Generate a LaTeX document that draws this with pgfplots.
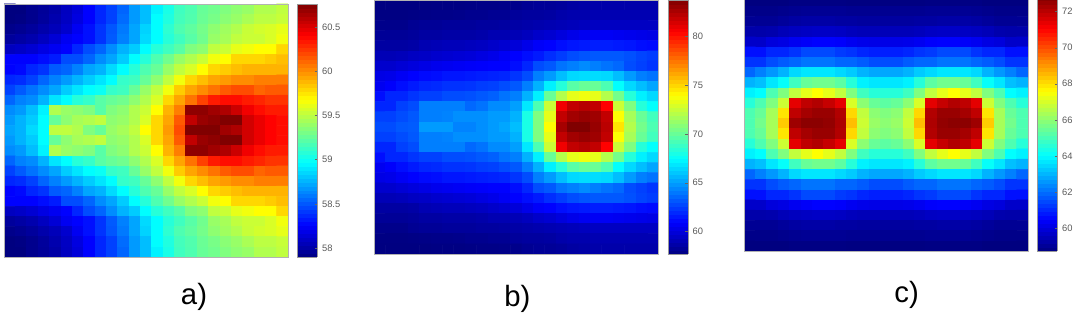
\documentclass[border=0pt]{standalone}
\usepackage{pgfplots}
\usepackage{fontspec}
\setmainfont{Liberation Sans}
\pgfplotsset{compat=1.18}
\pgfplotsset{
  panel/.style={
    scale only axis, axis on top, y dir=reverse,
    xmin=-0.5, xmax=24.5, ymin=-0.5, ymax=24.5,
    xtick=\empty, ytick=\empty,
    axis line style={black!30, line width=0.6pt},
    colormap/jet, colorbar sampled,
    colorbar style={
      samples=65, width=15pt, xshift=-1.5pt,
      at={(parent axis.north east)}, anchor=north west,
      tick align=inside, major tick length=2pt, ytick pos=right,
      tick style={black!60, line width=0.3pt},
      axis line style={black!40, line width=0.5pt},
      yticklabel pos=right,
      yticklabel style={font=\fontsize{7}{8}\selectfont, text=black!65,
        /pgf/number format/assume math mode=true,
        /pgf/number format/fixed, /pgf/number format/precision=1},
    },
  },
  heatgrid/.style={matrix plot*, mesh/cols=25, point meta=explicit, shader=flat corner, draw=none},
}
\begin{document}
\begin{tikzpicture}
\path[use as bounding box] (0,0) rectangle (807pt,237pt);
% a)
\begin{axis}[panel, at={(3pt,44.25pt)}, anchor=south west, width=213pt, height=189.75pt,
  point meta min=57.9, point meta max=60.76,
  colorbar style={ytick={58,58.5,59,59.5,60,60.5}}]
\addplot[heatgrid] table[row sep=\\, header=false, x expr={\coordindex-25*floor((\coordindex+0.5)/25)}, y expr={floor((\coordindex+0.5)/25)}, meta index=0] {
57.90\\57.90\\57.94\\57.97\\58.01\\58.08\\58.15\\58.26\\58.36\\58.44\\58.54\\58.69\\58.79\\58.94\\59.04\\59.15\\59.19\\59.26\\59.29\\59.33\\59.37\\59.40\\59.47\\59.47\\59.51\\
57.90\\57.91\\57.94\\57.98\\58.03\\58.09\\58.17\\58.26\\58.36\\58.44\\58.56\\58.69\\58.79\\58.97\\59.06\\59.16\\59.20\\59.27\\59.31\\59.36\\59.40\\59.45\\59.50\\59.50\\59.53\\
57.93\\57.95\\57.98\\58.02\\58.06\\58.12\\58.22\\58.30\\58.40\\58.50\\58.60\\58.72\\58.85\\58.97\\59.10\\59.19\\59.24\\59.30\\59.37\\59.42\\59.47\\59.53\\59.56\\59.58\\59.62\\
57.98\\58.00\\58.03\\58.08\\58.14\\58.22\\58.26\\58.30\\58.40\\58.51\\58.62\\58.72\\58.87\\58.97\\59.08\\59.15\\59.22\\59.29\\59.40\\59.44\\59.51\\59.54\\59.54\\59.58\\59.65\\
58.08\\58.10\\58.13\\58.18\\58.22\\58.26\\58.36\\58.47\\58.54\\58.65\\58.76\\58.83\\58.97\\59.08\\59.15\\59.22\\59.33\\59.37\\59.51\\59.54\\59.62\\59.65\\59.69\\59.69\\59.80\\
58.26\\58.26\\58.26\\58.29\\58.33\\58.47\\58.47\\58.54\\58.65\\58.72\\58.83\\58.97\\59.08\\59.19\\59.29\\59.40\\59.47\\59.54\\59.65\\59.69\\59.80\\59.80\\59.80\\59.83\\59.87\\
58.26\\58.28\\58.36\\58.40\\58.51\\58.54\\58.62\\58.72\\58.76\\58.87\\58.97\\59.08\\59.19\\59.26\\59.40\\59.51\\59.58\\59.69\\59.80\\59.83\\59.87\\59.90\\59.90\\59.90\\59.90\\
58.36\\58.38\\58.44\\58.54\\58.62\\58.69\\58.76\\58.83\\58.90\\58.97\\59.12\\59.15\\59.26\\59.37\\59.51\\59.65\\59.80\\59.87\\59.94\\59.97\\60.01\\60.01\\60.05\\60.05\\60.05\\
58.44\\58.51\\58.58\\58.65\\58.72\\58.83\\58.90\\58.97\\59.00\\59.12\\59.15\\59.26\\59.40\\59.51\\59.65\\59.83\\59.94\\60.01\\60.08\\60.15\\60.19\\60.19\\60.12\\60.15\\60.15\\
58.54\\58.62\\58.65\\58.76\\58.90\\58.97\\59.08\\59.12\\59.22\\59.26\\59.29\\59.37\\59.47\\59.58\\59.80\\59.94\\60.08\\60.22\\60.33\\60.37\\60.37\\60.33\\60.30\\60.26\\60.26\\
58.65\\58.69\\58.79\\58.94\\59.47\\59.40\\59.37\\59.33\\59.22\\59.33\\59.37\\59.47\\59.54\\59.69\\59.90\\60.05\\60.72\\60.72\\60.67\\60.63\\60.55\\60.44\\60.37\\60.33\\60.33\\
58.69\\58.76\\58.83\\58.97\\59.26\\59.37\\59.44\\59.47\\59.51\\59.37\\59.40\\59.47\\59.58\\59.80\\59.94\\60.15\\60.58\\60.69\\60.72\\60.76\\60.76\\60.53\\60.46\\60.40\\60.37\\
58.72\\58.76\\58.87\\58.97\\59.51\\59.51\\59.47\\59.33\\59.26\\59.40\\59.44\\59.51\\59.69\\59.80\\59.97\\60.19\\60.76\\60.76\\60.76\\60.67\\60.63\\60.53\\60.46\\60.40\\60.37\\
58.69\\58.76\\58.83\\58.97\\59.26\\59.37\\59.44\\59.47\\59.51\\59.37\\59.40\\59.47\\59.58\\59.80\\59.94\\60.15\\60.58\\60.69\\60.72\\60.76\\60.76\\60.53\\60.46\\60.40\\60.37\\
58.65\\58.69\\58.79\\58.94\\59.47\\59.40\\59.37\\59.33\\59.22\\59.33\\59.37\\59.47\\59.54\\59.69\\59.90\\60.05\\60.72\\60.72\\60.67\\60.63\\60.55\\60.44\\60.37\\60.33\\60.33\\
58.54\\58.62\\58.65\\58.76\\58.90\\58.97\\59.08\\59.12\\59.22\\59.26\\59.29\\59.37\\59.47\\59.58\\59.80\\59.94\\60.08\\60.22\\60.33\\60.37\\60.37\\60.33\\60.30\\60.26\\60.26\\
58.44\\58.51\\58.58\\58.65\\58.72\\58.83\\58.90\\58.97\\59.00\\59.12\\59.15\\59.26\\59.40\\59.51\\59.65\\59.83\\59.94\\60.01\\60.08\\60.15\\60.19\\60.19\\60.12\\60.15\\60.15\\
58.36\\58.38\\58.44\\58.54\\58.62\\58.69\\58.76\\58.83\\58.90\\58.97\\59.12\\59.15\\59.26\\59.37\\59.51\\59.65\\59.80\\59.87\\59.94\\59.97\\60.01\\60.01\\60.05\\60.05\\60.05\\
58.26\\58.28\\58.36\\58.40\\58.51\\58.54\\58.62\\58.72\\58.76\\58.87\\58.97\\59.08\\59.19\\59.26\\59.40\\59.51\\59.58\\59.69\\59.80\\59.83\\59.87\\59.90\\59.90\\59.90\\59.90\\
58.26\\58.26\\58.26\\58.29\\58.33\\58.47\\58.47\\58.54\\58.65\\58.72\\58.83\\58.97\\59.08\\59.19\\59.29\\59.40\\59.47\\59.54\\59.65\\59.69\\59.80\\59.80\\59.80\\59.83\\59.87\\
58.08\\58.10\\58.13\\58.18\\58.22\\58.26\\58.36\\58.47\\58.54\\58.65\\58.76\\58.83\\58.97\\59.08\\59.15\\59.22\\59.33\\59.37\\59.51\\59.54\\59.62\\59.65\\59.69\\59.69\\59.80\\
57.98\\58.00\\58.03\\58.08\\58.14\\58.22\\58.26\\58.30\\58.40\\58.51\\58.62\\58.72\\58.87\\58.97\\59.08\\59.15\\59.22\\59.29\\59.40\\59.44\\59.51\\59.54\\59.54\\59.58\\59.65\\
57.93\\57.95\\57.98\\58.02\\58.06\\58.12\\58.22\\58.30\\58.40\\58.50\\58.60\\58.72\\58.85\\58.97\\59.10\\59.19\\59.24\\59.30\\59.37\\59.42\\59.47\\59.53\\59.56\\59.58\\59.62\\
57.90\\57.91\\57.94\\57.98\\58.03\\58.09\\58.17\\58.26\\58.36\\58.44\\58.56\\58.69\\58.79\\58.97\\59.06\\59.16\\59.20\\59.27\\59.31\\59.36\\59.40\\59.45\\59.50\\59.50\\59.53\\
57.90\\57.90\\57.94\\57.97\\58.01\\58.08\\58.15\\58.26\\58.36\\58.44\\58.54\\58.69\\58.79\\58.94\\59.04\\59.15\\59.19\\59.26\\59.29\\59.33\\59.37\\59.40\\59.47\\59.47\\59.51\\
};
\end{axis}
% b)
\begin{axis}[panel, at={(280.5pt,46.5pt)}, anchor=south west, width=213.4pt, height=190.5pt,
  point meta min=57.72, point meta max=83.68,
  colorbar style={ytick={60,65,70,75,80}}]
\addplot[heatgrid] table[row sep=\\, header=false, x expr={\coordindex-25*floor((\coordindex+0.5)/25)}, y expr={floor((\coordindex+0.5)/25)}, meta index=0] {
57.75\\57.75\\57.75\\57.75\\57.75\\57.8\\57.8\\57.8\\57.85\\57.9\\57.9\\57.95\\58.0\\58.2\\58.3\\58.3\\58.4\\58.6\\58.7\\58.8\\58.8\\58.8\\58.8\\58.8\\58.8\\
57.8\\57.8\\57.8\\57.85\\57.9\\57.95\\57.95\\58.0\\58.1\\58.1\\58.2\\58.2\\58.4\\58.5\\58.5\\58.6\\58.8\\58.9\\58.9\\59.0\\59.0\\59.0\\59.0\\59.0\\59.0\\
58.0\\58.0\\58.0\\58.2\\58.3\\58.3\\58.4\\58.4\\58.4\\58.5\\58.5\\58.6\\58.7\\58.8\\58.9\\59.0\\59.1\\59.2\\59.3\\59.4\\59.4\\59.4\\59.4\\59.4\\59.4\\
58.3\\58.3\\58.3\\58.4\\58.6\\58.6\\58.7\\58.7\\58.7\\58.8\\59.0\\59.0\\59.1\\59.3\\59.6\\59.8\\60.1\\60.4\\60.6\\60.7\\60.7\\60.6\\60.5\\60.4\\60.3\\
58.6\\58.6\\58.6\\58.7\\59.0\\59.1\\59.2\\59.2\\59.3\\59.4\\59.6\\59.8\\60.0\\60.4\\60.8\\61.0\\61.3\\61.5\\61.6\\61.7\\61.7\\61.6\\61.5\\61.3\\61.2\\
59.1\\59.1\\59.2\\59.4\\59.5\\59.7\\59.8\\59.9\\60.0\\60.2\\60.4\\60.7\\61.0\\61.3\\61.6\\62.1\\62.5\\62.9\\63.1\\63.2\\63.2\\63.2\\63.0\\62.7\\62.5\\
59.7\\59.7\\59.9\\60.1\\60.3\\60.5\\60.6\\60.7\\60.8\\60.9\\61.0\\61.0\\61.3\\61.9\\62.9\\63.2\\63.9\\64.2\\64.5\\64.2\\63.9\\63.6\\62.9\\62.6\\62.3\\
60.3\\60.4\\60.7\\61.0\\61.2\\61.3\\61.5\\61.5\\61.6\\61.7\\61.8\\61.9\\62.3\\62.9\\64.2\\64.9\\65.8\\66.5\\66.6\\66.6\\66.5\\65.8\\64.9\\64.2\\63.9\\
60.6\\60.9\\61.3\\61.6\\61.9\\62.0\\62.2\\62.2\\62.3\\62.5\\62.6\\62.9\\63.2\\64.2\\65.5\\67.1\\68.4\\69.7\\70.1\\70.1\\69.4\\67.5\\66.5\\65.8\\65.2\\
61.3\\61.9\\61.9\\62.3\\62.6\\62.6\\62.9\\62.9\\63.0\\63.2\\63.4\\63.9\\64.2\\65.5\\67.1\\70.1\\72.0\\73.3\\73.6\\73.3\\72.0\\70.4\\68.4\\67.1\\66.5\\
61.9\\61.9\\62.6\\62.9\\64.2\\64.2\\64.2\\64.2\\63.6\\63.9\\64.5\\64.5\\65.0\\66.9\\69.4\\72.6\\80.8\\82.0\\82.3\\82.0\\80.4\\72.6\\70.7\\68.4\\67.5\\
62.6\\62.6\\62.9\\63.2\\64.2\\64.2\\64.3\\64.6\\64.6\\64.6\\64.9\\64.9\\65.5\\68.1\\70.7\\73.3\\82.0\\82.8\\83.1\\82.9\\82.0\\73.9\\71.7\\70.1\\69.1\\
62.9\\62.9\\63.2\\63.3\\64.9\\64.9\\64.9\\64.3\\64.3\\64.6\\64.9\\65.2\\65.8\\68.1\\70.7\\73.9\\82.7\\83.7\\83.7\\83.1\\82.2\\74.6\\72.0\\70.4\\69.4\\
62.6\\62.6\\62.9\\63.2\\64.2\\64.2\\64.3\\64.6\\64.6\\64.6\\64.9\\64.9\\65.5\\68.1\\70.7\\73.3\\82.0\\82.8\\83.1\\82.9\\82.0\\73.9\\71.7\\70.1\\69.1\\
61.9\\61.9\\62.6\\62.9\\64.2\\64.2\\64.2\\64.2\\63.6\\63.9\\64.5\\64.5\\65.0\\66.9\\69.4\\72.6\\80.8\\82.0\\82.3\\82.0\\80.4\\72.6\\70.7\\68.4\\67.5\\
61.3\\61.9\\61.9\\62.3\\62.6\\62.6\\62.9\\62.9\\63.0\\63.2\\63.4\\63.9\\64.2\\65.5\\67.1\\70.1\\72.0\\73.3\\73.6\\73.3\\72.0\\70.4\\68.4\\67.1\\66.5\\
60.6\\60.9\\61.3\\61.6\\61.9\\62.0\\62.2\\62.2\\62.3\\62.5\\62.6\\62.9\\63.2\\64.2\\65.5\\67.1\\68.4\\69.7\\70.1\\70.1\\69.4\\67.5\\66.5\\65.8\\65.2\\
60.3\\60.4\\60.7\\61.0\\61.2\\61.3\\61.5\\61.5\\61.6\\61.7\\61.8\\61.9\\62.3\\62.9\\64.2\\64.9\\65.8\\66.5\\66.6\\66.6\\66.5\\65.8\\64.9\\64.2\\63.9\\
59.7\\59.7\\59.9\\60.1\\60.3\\60.5\\60.6\\60.7\\60.8\\60.9\\61.0\\61.0\\61.3\\61.9\\62.9\\63.2\\63.9\\64.2\\64.5\\64.2\\63.9\\63.6\\62.9\\62.6\\62.3\\
59.1\\59.1\\59.2\\59.4\\59.5\\59.7\\59.8\\59.9\\60.0\\60.2\\60.4\\60.7\\61.0\\61.3\\61.6\\62.1\\62.5\\62.9\\63.1\\63.2\\63.2\\63.2\\63.0\\62.7\\62.5\\
58.6\\58.6\\58.6\\58.7\\59.0\\59.1\\59.2\\59.2\\59.3\\59.4\\59.6\\59.8\\60.0\\60.4\\60.8\\61.0\\61.3\\61.5\\61.6\\61.7\\61.7\\61.6\\61.5\\61.3\\61.2\\
58.3\\58.3\\58.3\\58.4\\58.6\\58.6\\58.7\\58.7\\58.7\\58.8\\59.0\\59.0\\59.1\\59.3\\59.6\\59.8\\60.1\\60.4\\60.6\\60.7\\60.7\\60.6\\60.5\\60.4\\60.3\\
58.0\\58.0\\58.0\\58.2\\58.3\\58.3\\58.4\\58.4\\58.4\\58.5\\58.5\\58.6\\58.7\\58.8\\58.9\\59.0\\59.1\\59.2\\59.3\\59.4\\59.4\\59.4\\59.4\\59.4\\59.4\\
57.8\\57.8\\57.8\\57.85\\57.9\\57.95\\57.95\\58.0\\58.1\\58.1\\58.2\\58.2\\58.4\\58.5\\58.5\\58.6\\58.8\\58.9\\58.9\\59.0\\59.0\\59.0\\59.0\\59.0\\59.0\\
57.75\\57.75\\57.75\\57.75\\57.75\\57.8\\57.8\\57.8\\57.85\\57.9\\57.9\\57.95\\58.0\\58.2\\58.3\\58.3\\58.4\\58.6\\58.7\\58.8\\58.8\\58.8\\58.8\\58.8\\58.8\\
};
\end{axis}
% c)
\begin{axis}[panel, at={(558pt,48.75pt)}, anchor=south west, width=213pt, height=191.25pt,
  point meta min=58.72, point meta max=72.87,
  colorbar style={ytick={60,62,64,66,68,70,72}}]
\addplot[heatgrid] table[row sep=\\, header=false, x expr={\coordindex-25*floor((\coordindex+0.5)/25)}, y expr={floor((\coordindex+0.5)/25)}, meta index=0] {
58.72\\58.72\\58.72\\58.72\\58.78\\58.78\\58.78\\58.78\\58.78\\58.75\\58.75\\58.75\\58.75\\58.75\\58.75\\58.75\\58.78\\58.78\\58.78\\58.78\\58.78\\58.72\\58.72\\58.72\\58.72\\
58.85\\58.85\\58.85\\58.9\\58.95\\59.0\\59.0\\59.0\\59.0\\58.95\\58.95\\58.95\\58.95\\58.95\\58.95\\58.95\\59.0\\59.0\\59.0\\59.0\\58.95\\58.9\\58.85\\58.85\\58.85\\
59.0\\59.0\\59.0\\59.1\\59.2\\59.25\\59.25\\59.25\\59.2\\59.2\\59.15\\59.15\\59.15\\59.15\\59.15\\59.2\\59.2\\59.25\\59.25\\59.25\\59.2\\59.1\\59.0\\59.0\\59.0\\
59.3\\59.3\\59.35\\59.5\\59.6\\59.65\\59.7\\59.7\\59.65\\59.55\\59.5\\59.5\\59.5\\59.5\\59.5\\59.55\\59.65\\59.7\\59.7\\59.65\\59.6\\59.5\\59.35\\59.3\\59.3\\
59.75\\59.75\\60.0\\60.1\\60.3\\60.4\\60.5\\60.5\\60.45\\60.3\\60.2\\60.15\\60.15\\60.15\\60.2\\60.3\\60.45\\60.5\\60.5\\60.4\\60.3\\60.1\\60.0\\59.75\\59.75\\
60.7\\60.7\\61.0\\61.0\\61.2\\61.5\\61.5\\61.5\\61.3\\61.2\\61.0\\60.9\\60.9\\60.9\\61.0\\61.2\\61.3\\61.5\\61.5\\61.5\\61.2\\61.0\\61.0\\60.7\\60.7\\
61.2\\61.2\\61.55\\61.75\\61.9\\62.1\\62.1\\62.1\\61.9\\61.9\\61.75\\61.55\\61.55\\61.55\\61.75\\61.9\\61.9\\62.1\\62.1\\62.1\\61.9\\61.75\\61.55\\61.2\\61.2\\
61.9\\62.26\\62.6\\62.97\\63.5\\63.7\\63.7\\63.7\\63.5\\63.3\\62.97\\62.8\\62.8\\62.8\\62.97\\63.3\\63.5\\63.7\\63.7\\63.7\\63.5\\62.97\\62.6\\62.26\\61.9\\
62.97\\63.15\\63.7\\64.1\\64.9\\65.45\\65.6\\65.6\\65.3\\64.55\\63.85\\63.7\\63.7\\63.7\\63.85\\64.55\\65.3\\65.6\\65.6\\65.45\\64.9\\64.1\\63.7\\63.15\\62.97\\
63.85\\64.03\\65.09\\65.8\\66.7\\67.22\\67.57\\67.22\\66.7\\65.8\\64.9\\64.55\\64.55\\64.55\\64.9\\65.8\\66.7\\67.22\\67.57\\67.22\\66.7\\65.8\\65.09\\64.03\\63.85\\
64.55\\65.09\\65.8\\66.86\\71.46\\71.99\\72.17\\71.9\\71.46\\67.04\\65.97\\65.45\\65.3\\65.45\\65.97\\67.04\\71.46\\71.9\\72.17\\71.99\\71.46\\66.86\\65.8\\65.09\\64.55\\
65.09\\65.45\\66.33\\67.92\\71.99\\72.35\\72.52\\72.52\\72.17\\68.1\\66.7\\65.97\\65.8\\65.97\\66.7\\68.1\\72.17\\72.52\\72.52\\72.35\\71.99\\67.92\\66.33\\65.45\\65.09\\
65.09\\65.62\\66.33\\68.28\\72.45\\72.7\\72.7\\72.6\\72.25\\68.46\\66.86\\66.15\\65.97\\66.15\\66.86\\68.46\\72.25\\72.6\\72.7\\72.7\\72.45\\68.28\\66.33\\65.62\\65.09\\
65.09\\65.45\\66.33\\67.92\\71.99\\72.35\\72.52\\72.52\\72.17\\68.1\\66.7\\65.97\\65.8\\65.97\\66.7\\68.1\\72.17\\72.52\\72.52\\72.35\\71.99\\67.92\\66.33\\65.45\\65.09\\
64.55\\65.09\\65.8\\66.86\\71.46\\71.99\\72.17\\71.9\\71.46\\67.04\\65.97\\65.45\\65.3\\65.45\\65.97\\67.04\\71.46\\71.9\\72.17\\71.99\\71.46\\66.86\\65.8\\65.09\\64.55\\
63.85\\64.03\\65.09\\65.8\\66.7\\67.22\\67.57\\67.22\\66.7\\65.8\\64.9\\64.55\\64.55\\64.55\\64.9\\65.8\\66.7\\67.22\\67.57\\67.22\\66.7\\65.8\\65.09\\64.03\\63.85\\
62.97\\63.15\\63.7\\64.1\\64.9\\65.45\\65.6\\65.6\\65.3\\64.55\\63.85\\63.7\\63.7\\63.7\\63.85\\64.55\\65.3\\65.6\\65.6\\65.45\\64.9\\64.1\\63.7\\63.15\\62.97\\
61.9\\62.26\\62.6\\62.97\\63.5\\63.7\\63.7\\63.7\\63.5\\63.3\\62.97\\62.8\\62.8\\62.8\\62.97\\63.3\\63.5\\63.7\\63.7\\63.7\\63.5\\62.97\\62.6\\62.26\\61.9\\
61.2\\61.2\\61.55\\61.75\\61.9\\62.1\\62.1\\62.1\\61.9\\61.9\\61.75\\61.55\\61.55\\61.55\\61.75\\61.9\\61.9\\62.1\\62.1\\62.1\\61.9\\61.75\\61.55\\61.2\\61.2\\
60.7\\60.7\\61.0\\61.0\\61.2\\61.5\\61.5\\61.5\\61.3\\61.2\\61.0\\60.9\\60.9\\60.9\\61.0\\61.2\\61.3\\61.5\\61.5\\61.5\\61.2\\61.0\\61.0\\60.7\\60.7\\
59.75\\59.75\\60.0\\60.1\\60.3\\60.4\\60.5\\60.5\\60.45\\60.3\\60.2\\60.15\\60.15\\60.15\\60.2\\60.3\\60.45\\60.5\\60.5\\60.4\\60.3\\60.1\\60.0\\59.75\\59.75\\
59.3\\59.3\\59.35\\59.5\\59.6\\59.65\\59.7\\59.7\\59.65\\59.55\\59.5\\59.5\\59.5\\59.5\\59.5\\59.55\\59.65\\59.7\\59.7\\59.65\\59.6\\59.5\\59.35\\59.3\\59.3\\
59.0\\59.0\\59.0\\59.1\\59.2\\59.25\\59.25\\59.25\\59.2\\59.2\\59.15\\59.15\\59.15\\59.15\\59.15\\59.2\\59.2\\59.25\\59.25\\59.25\\59.2\\59.1\\59.0\\59.0\\59.0\\
58.85\\58.85\\58.85\\58.9\\58.95\\59.0\\59.0\\59.0\\59.0\\58.95\\58.95\\58.95\\58.95\\58.95\\58.95\\58.95\\59.0\\59.0\\59.0\\59.0\\58.95\\58.9\\58.85\\58.85\\58.85\\
58.72\\58.72\\58.72\\58.72\\58.78\\58.78\\58.78\\58.78\\58.78\\58.75\\58.75\\58.75\\58.75\\58.75\\58.75\\58.75\\58.78\\58.78\\58.78\\58.78\\58.78\\58.72\\58.72\\58.72\\58.72\\
};
\end{axis}
\node[font=\fontsize{22}{24}\selectfont] at (145.5pt,14.5pt) {a)};
\node[font=\fontsize{22}{24}\selectfont] at (388pt,13pt) {b)};
\node[font=\fontsize{22}{24}\selectfont] at (680pt,16pt) {c)};
\end{tikzpicture}
\end{document}
